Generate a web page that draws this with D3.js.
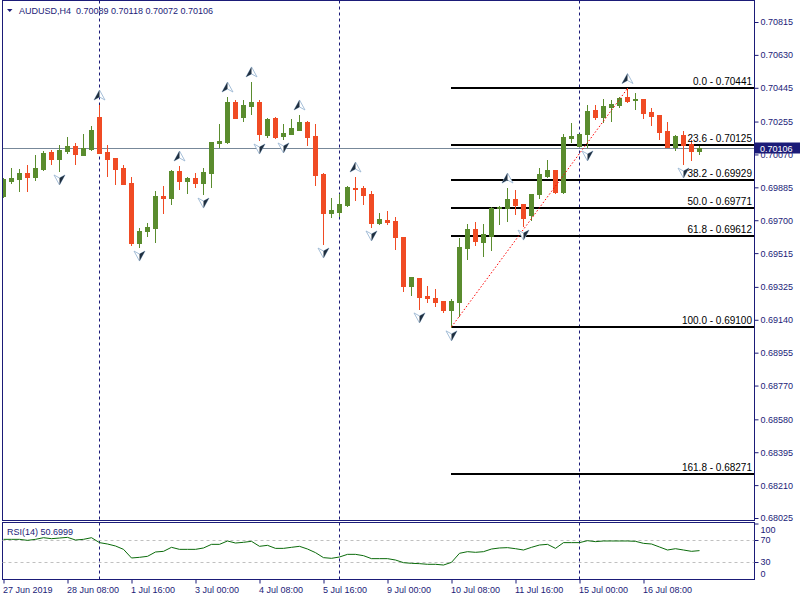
<!DOCTYPE html>
<html><head><meta charset="utf-8">
<script src="https://cdn.jsdelivr.net/npm/d3@7"></script>
<style>
body{margin:0;background:#fff}
svg{display:block}
text{font-family:"Liberation Sans",Arial,sans-serif}
</style>
</head><body>
<svg id="c" width="800" height="600"></svg>
<script>
const symbolTitle = "AUDUSD,H4";
const opens  = [0.69836,0.69921,0.69932,0.69966,0.69943,0.69988,0.70084,0.70044,0.70089,0.70118,0.70067,0.70101,0.70281,0.70084,0.70050,0.69994,0.69909,0.69572,0.69639,0.69656,0.69836,0.69825,0.69977,0.69921,0.69937,0.69909,0.69966,0.70134,0.70140,0.70365,0.70281,0.70342,0.70365,0.70179,0.70275,0.70174,0.70185,0.70207,0.70253,0.70174,0.69960,0.69741,0.69746,0.69786,0.69881,0.69881,0.69847,0.69684,0.69701,0.69696,0.69605,0.69330,0.69375,0.69274,0.69262,0.69246,0.69195,0.69240,0.69544,0.69651,0.69577,0.69611,0.69769,0.69769,0.69819,0.69791,0.69729,0.69847,0.69949,0.69982,0.69859,0.70163,0.70118,0.70185,0.70320,0.70281,0.70337,0.70348,0.70393,0.70376,0.70382,0.70309,0.70292,0.70202,0.70112,0.70179,0.70129,0.70089];
const highs  = [0.69937,0.69994,0.69988,0.70011,0.70067,0.70089,0.70095,0.70123,0.70168,0.70134,0.70185,0.70230,0.70348,0.70123,0.70050,0.70011,0.69943,0.69656,0.69684,0.69864,0.69892,0.69982,0.70005,0.69943,0.69966,0.69994,0.70140,0.70241,0.70393,0.70376,0.70376,0.70478,0.70376,0.70275,0.70281,0.70241,0.70269,0.70292,0.70258,0.70241,0.69966,0.69825,0.69847,0.69892,0.69943,0.69892,0.69864,0.69741,0.69752,0.69718,0.69605,0.69381,0.69375,0.69330,0.69313,0.69246,0.69257,0.69600,0.69679,0.69690,0.69679,0.69774,0.69780,0.69881,0.69870,0.69791,0.69847,0.69994,0.70039,0.69982,0.70185,0.70247,0.70185,0.70348,0.70348,0.70382,0.70376,0.70393,0.70441,0.70416,0.70382,0.70331,0.70292,0.70253,0.70179,0.70202,0.70151,0.70118];
const lows   = [0.69831,0.69909,0.69864,0.69864,0.69926,0.69982,0.70016,0.69977,0.70078,0.70016,0.70067,0.70095,0.70078,0.69949,0.69904,0.69904,0.69560,0.69549,0.69611,0.69577,0.69741,0.69791,0.69876,0.69853,0.69887,0.69847,0.69887,0.70112,0.70134,0.70275,0.70258,0.70297,0.70151,0.70168,0.70163,0.70157,0.70185,0.70207,0.70123,0.69898,0.69566,0.69718,0.69724,0.69780,0.69814,0.69791,0.69662,0.69679,0.69679,0.69538,0.69302,0.69279,0.69201,0.69240,0.69217,0.69184,0.69100,0.69161,0.69482,0.69560,0.69499,0.69532,0.69679,0.69696,0.69735,0.69667,0.69701,0.69825,0.69943,0.69853,0.69853,0.70140,0.70118,0.70112,0.70269,0.70253,0.70258,0.70337,0.70365,0.70326,0.70275,0.70236,0.70157,0.70112,0.70095,0.70016,0.70039,0.70072];
const closes = [0.69932,0.69937,0.69966,0.69943,0.69994,0.70078,0.70044,0.70095,0.70118,0.70072,0.70106,0.70207,0.70078,0.70044,0.69988,0.69904,0.69572,0.69639,0.69662,0.69836,0.69825,0.69977,0.69921,0.69937,0.69909,0.69971,0.70140,0.70146,0.70365,0.70275,0.70348,0.70365,0.70185,0.70269,0.70168,0.70191,0.70219,0.70253,0.70168,0.69954,0.69741,0.69757,0.69791,0.69887,0.69876,0.69842,0.69684,0.69707,0.69690,0.69605,0.69330,0.69381,0.69268,0.69262,0.69240,0.69195,0.69246,0.69549,0.69651,0.69583,0.69622,0.69769,0.69774,0.69819,0.69786,0.69712,0.69847,0.69960,0.69982,0.69859,0.70168,0.70174,0.70185,0.70314,0.70281,0.70342,0.70354,0.70387,0.70371,0.70382,0.70303,0.70286,0.70196,0.70112,0.70174,0.70123,0.70089,0.70106];
const rsiValues = [71.2,71.2,71.2,69.4,71.2,74.2,72.4,73.6,74.8,70.0,71.2,74.2,65.2,62.7,59.1,53.0,37.3,38.5,40.3,48.2,49.4,56.7,53.0,53.0,53.0,55.5,62.1,62.1,68.2,64.5,65.8,67.6,58.5,60.3,54.8,54.8,56.7,58.5,53.6,47.0,37.9,36.7,39.1,43.9,43.9,41.5,36.1,36.1,36.1,33.6,28.8,27.6,27.0,25.8,25.8,24.5,29.4,45.8,48.8,47.6,48.8,53.6,55.5,56.1,54.2,51.8,56.7,60.9,62.1,54.8,65.2,65.2,65.2,68.8,67.0,68.2,68.2,68.2,68.2,67.6,63.9,62.7,57.3,51.8,54.2,51.8,49.4,50.7];
const rsiLast = "50.6999";
const timeTickBars = [0,8,16,24,32,40,48,56,64,72,80];
const timeTickLabels = ["27 Jun 2019","28 Jun 08:00","1 Jul 16:00","3 Jul 00:00","4 Jul 08:00","5 Jul 16:00","9 Jul 00:00","10 Jul 08:00","11 Jul 16:00","15 Jul 00:00","16 Jul 08:00"];
const priceTicks = [0.70815,0.70630,0.70445,0.70255,0.70070,0.69885,0.69700,0.69515,0.69325,0.69140,0.68955,0.68770,0.68580,0.68395,0.68210,0.68025];
const separatorBars = [12,42,72];
const fractalUpBars = [12,22,28,31,37,44,63,78];
const fractalDownBars = [7,17,25,32,35,40,46,52,56,65,73,85];
const fibLevels = [0.0,23.6,38.2,50.0,61.8,100.0,161.8];
const fibPrices = [0.70441,0.70125,0.69929,0.69771,0.69612,0.69100,0.68271];
const fibStartBar = 56, fibEndBar = 78;
const rsiTicks = [100,70,30,0];
const rsiLevels = [70,30];

const n = closes.length;
const last = n - 1;
const svg = d3.select("#c");
const navy = "#1b1b78";
const upCol = "#5a8c2e", dnCol = "#f04b24";

const L = 2.5, R = 754.5, T = 0.5, B = 520.5, RT = 522.5, RB = 579.5;
const x = d3.scaleLinear().domain([0, 87]).range([3.5, 699.5]);
const y = d3.scaleLinear().domain([0.68025, 0.70815]).range([518, 22]);
const yr = d3.scaleLinear().domain([0, 100]).range([578.5, 523.5]);

svg.append("defs").html(`<clipPath id="cm"><rect x="${L}" y="${T}" width="${R-L}" height="${B-T}"/></clipPath>
<clipPath id="cr"><rect x="${L}" y="${RT}" width="${R-L}" height="${RB-RT}"/></clipPath>`);

// separators
separatorBars.forEach(b => {
  const xx = Math.floor(x(b)) + 0.5;
  svg.append("line").attr("x1", xx).attr("x2", xx).attr("y1", T).attr("y2", B)
    .attr("stroke", navy).attr("stroke-dasharray", "3,3");
  svg.append("line").attr("x1", xx).attr("x2", xx).attr("y1", RT).attr("y2", RB)
    .attr("stroke", navy).attr("stroke-dasharray", "3,3");
});

const main = svg.append("g").attr("clip-path", "url(#cm)");

// bid line
main.append("line").attr("x1", L).attr("x2", R)
  .attr("y1", Math.round(y(closes[last])) + 0.5).attr("y2", Math.round(y(closes[last])) + 0.5)
  .attr("stroke", "#778899").attr("stroke-width", 1);

// fib lines
fibPrices.forEach((p, i) => {
  const yy = Math.round(y(p));
  main.append("line").attr("x1", x(fibStartBar) - 0.5).attr("x2", R).attr("y1", yy).attr("y2", yy)
    .attr("stroke", "#000").attr("stroke-width", 2);
  svg.append("text").attr("x", 752).attr("y", yy - 3).attr("text-anchor", "end")
    .attr("font-size", 10).attr("fill", "#000")
    .text(fibLevels[i].toFixed(1) + " - " + p.toFixed(5));
});

// candles
const candles = main.append("g").attr("shape-rendering", "crispEdges");
d3.range(n).forEach(i => {
  const o = opens[i], c = closes[i];
  const col = c >= o ? upCol : dnCol;
  const cx = x(i);
  candles.append("line").attr("x1", cx).attr("x2", cx)
    .attr("y1", Math.round(y(highs[i]))).attr("y2", Math.round(y(lows[i])) + 1)
    .attr("stroke", col).attr("stroke-width", 1);
  const top = Math.round(y(Math.max(o, c))), bot = Math.round(y(Math.min(o, c)));
  candles.append("rect").attr("x", cx - 2.5).attr("width", 5)
    .attr("y", top).attr("height", Math.max(1, bot - top + 1)).attr("fill", col);
});

// fib trend line (dotted red)
main.append("line")
  .attr("x1", x(fibStartBar)).attr("y1", y(fibPrices[5]))
  .attr("x2", x(fibEndBar)).attr("y2", y(fibPrices[0]))
  .attr("stroke", "#ff0000").attr("stroke-width", 1).attr("stroke-dasharray", "1.5,2");

// fractals
function arrow(g, cx, cy, up) {
  const s = up ? 1 : -1;
  const pts = [[0, -5 * s], [5.5, 5 * s], [0, 2 * s], [-5.5, 5 * s]];
  g.append("path").attr("d", "M" + pts.map(p => (cx + p[0]) + "," + (cy + p[1])).join("L") + "Z")
    .attr("fill", "#ffffff").attr("stroke", "#9cb8d4").attr("stroke-width", 0.9);
  const half = up ? [[0, -5], [0, 2], [-5.5, 5]] : [[0, 5], [0, -2], [5.5, -5]];
  g.append("path").attr("d", "M" + half.map(p => (cx + p[0]) + "," + (cy + p[1])).join("L") + "Z")
    .attr("fill", "#1f2f40");
}
fractalUpBars.forEach(b => arrow(main, x(b), y(highs[b]) - 10, true));
fractalDownBars.forEach(b => arrow(main, x(b), y(lows[b]) + 9, false));

// frames
svg.append("rect").attr("x", L).attr("y", T).attr("width", R - L).attr("height", B - T)
  .attr("fill", "none").attr("stroke", navy);
svg.append("rect").attr("x", L).attr("y", RT).attr("width", R - L).attr("height", RB - RT)
  .attr("fill", "none").attr("stroke", navy);

// price axis
const pa = svg.append("g").attr("transform", "translate(754.5,0)")
  .call(d3.axisRight(y).tickValues(priceTicks).tickSize(4).tickPadding(2).tickFormat(d3.format(".5f")));
pa.select(".domain").remove();
pa.selectAll("line").attr("stroke", navy);
pa.selectAll("text").attr("fill", navy).attr("font-size", 9).attr("font-family", "Liberation Sans, Arial, sans-serif");

// current price box
const cy0 = Math.round(y(closes[last]));
svg.append("rect").attr("x", 755).attr("y", cy0 - 5.5).attr("width", 45).attr("height", 11).attr("fill", navy);
svg.append("text").attr("x", 760).attr("y", cy0 + 3.5).attr("fill", "#fff").attr("font-size", 9)
  .text(closes[last].toFixed(5));

// RSI panel
rsiLevels.forEach(v => {
  svg.append("line").attr("x1", L).attr("x2", R).attr("y1", Math.round(yr(v)) + 0.5).attr("y2", Math.round(yr(v)) + 0.5)
    .attr("stroke", "#c0c0c0").attr("stroke-dasharray", "3,3");
});
svg.append("path").datum(rsiValues).attr("clip-path", "url(#cr)")
  .attr("d", d3.line().x((d, i) => x(i)).y(d => yr(d)))
  .attr("fill", "none").attr("stroke", "#0b6b0b").attr("stroke-width", 1);

const ra = svg.append("g").attr("transform", "translate(754.5,0)")
  .call(d3.axisRight(yr).tickValues(rsiTicks).tickSize(4).tickPadding(2));
ra.select(".domain").remove();
ra.selectAll("line").attr("stroke", navy);
ra.selectAll("text").attr("fill", navy).attr("font-size", 9).attr("font-family", "Liberation Sans, Arial, sans-serif")
  .attr("dy", d => d === 100 ? "0.95em" : d === 0 ? "-0.2em" : "0.32em");
ra.selectAll(".tick").filter(d => d === 0).select("line").remove();

svg.append("text").attr("x", 7).attr("y", 535).attr("fill", navy).attr("font-size", 9)
  .text("RSI(14) " + rsiLast);

// time axis
const ta = svg.append("g").attr("transform", "translate(0,579.5)")
  .call(d3.axisBottom(x).tickValues(timeTickBars).tickSize(4).tickPadding(3)
    .tickFormat((d, i) => timeTickLabels[i]));
ta.select(".domain").remove();
ta.selectAll("line").attr("stroke", navy);
ta.selectAll("text").attr("fill", navy).attr("font-size", 9).attr("text-anchor", "start").attr("x", -1)
  .attr("font-family", "Liberation Sans, Arial, sans-serif");

// title
svg.append("path").attr("d", "M7,9 L12.5,9 L9.75,12 Z").attr("fill", navy);
svg.append("text").attr("x", 19).attr("y", 14).attr("fill", navy).attr("font-size", 9)
  .style("white-space", "pre")
  .text(symbolTitle + "  " + [opens[last], highs[last], lows[last], closes[last]].map(v => v.toFixed(5)).join(" "));
</script>
</body></html>
